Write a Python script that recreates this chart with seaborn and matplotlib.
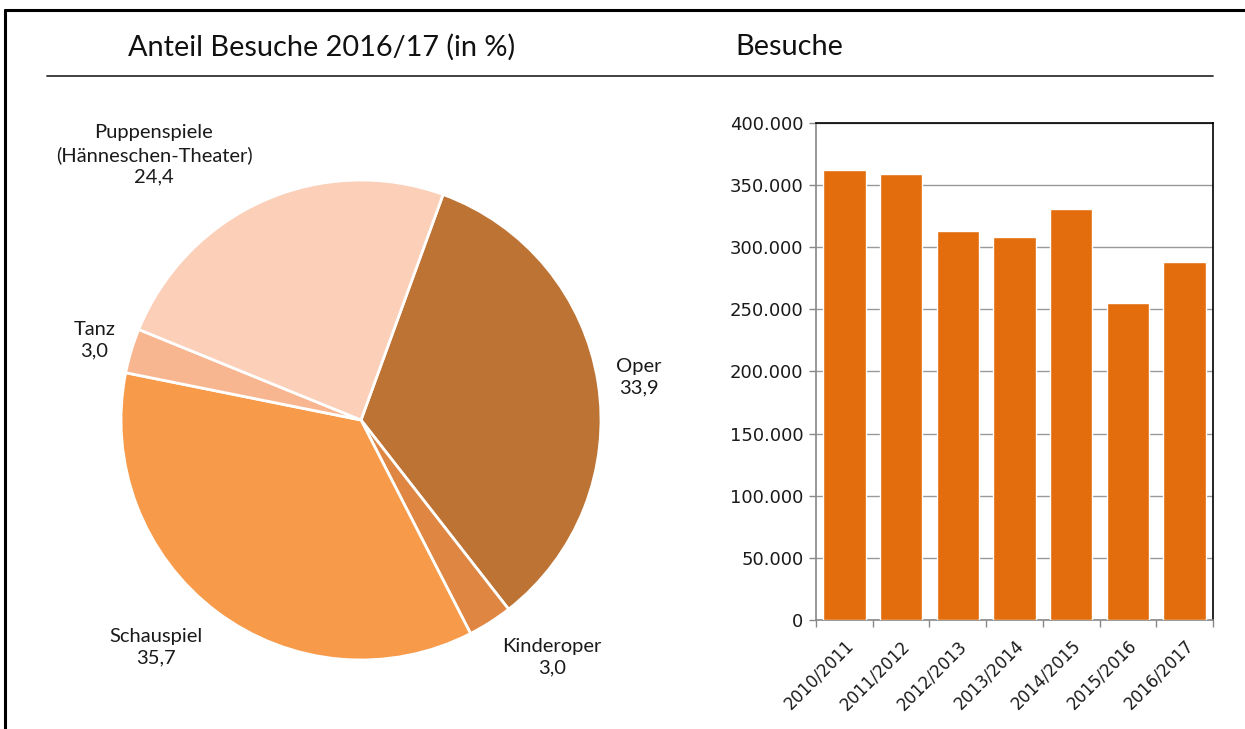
import matplotlib
matplotlib.use("Agg")
import matplotlib.pyplot as plt
import seaborn as sns
import pandas as pd
from matplotlib.lines import Line2D
from matplotlib.ticker import FuncFormatter

# ---- data ----
pie_labels = ["Oper", "Kinderoper", "Schauspiel", "Tanz", "Puppenspiele\n(Hänneschen-Theater)"]
pie_values = [33.9, 3.0, 35.7, 3.0, 24.4]
pie_value_text = ["33,9", "3,0", "35,7", "3,0", "24,4"]
pie_colors = ["#BD7334", "#DE8642", "#F79A4A", "#F8B690", "#FBCFB8"]

seasons = ["2010/2011", "2011/2012", "2012/2013", "2013/2014", "2014/2015", "2015/2016", "2016/2017"]
visits = [362000, 359000, 313000, 308000, 331000, 255000, 288000]

sns.set_theme(style="white")
plt.rcParams["font.family"] = ["DejaVu Sans"]

fig = plt.figure(figsize=(12.45, 7.29), dpi=100)

# ---- pie ----
axp = fig.add_axes([121/1245, 1-660/729, 480/1245, 480/729])
axp.pie(pie_values, colors=pie_colors, startangle=70, counterclock=False,
        radius=1.0, wedgeprops=dict(edgecolor="white", linewidth=2))
axp.set_xlim(-1, 1)
axp.set_ylim(-1, 1)
axp.set_aspect("equal")
axp.axis("off")
label_pos = [(1.156, 0.178), (0.795, -0.99), (-0.854, -0.945), (-1.11, 0.333), (-0.8625, 1.104)]
for lab, val, (x, y) in zip(pie_labels, pie_value_text, label_pos):
    axp.text(x, y, f"{lab}\n{val}", ha="center", va="center", fontsize=14.5,
             family=["Lato", "DejaVu Sans"], color="#1a1a1a", linespacing=1.32)

# ---- bars ----
axb = fig.add_axes([816/1245, 1-620/729, 397/1245, 497/729])
df = pd.DataFrame({"Saison": seasons, "Besuche": visits})
sns.barplot(data=df, x="Saison", y="Besuche", color="#E36C0C", saturation=1,
            width=0.75, ax=axb, zorder=3)
axb.set_xlim(-0.5, len(seasons) - 0.5)
axb.set_ylim(0, 400000)
axb.set_yticks(range(0, 400001, 50000))
axb.yaxis.set_major_formatter(FuncFormatter(lambda v, p: f"{int(v):,}".replace(",", ".")))
axb.grid(axis="y", color="#999999", linewidth=1, zorder=0)
axb.set_axisbelow(True)
axb.set_xlabel("")
axb.set_ylabel("")
axb.set_xticks([i - 0.5 for i in range(len(seasons) + 1)])
axb.set_xticklabels([])
axb.set_xticks(range(len(seasons)), minor=True)
axb.set_xticklabels(seasons, minor=True, rotation=45, ha="right", rotation_mode="anchor",
                    fontsize=12, color="#1a1a1a")
axb.tick_params(axis="x", which="major", length=5, color="#888888", width=1, direction="out", bottom=True)
axb.tick_params(axis="x", which="minor", length=0, pad=12)
axb.tick_params(axis="y", length=5, color="#888888", width=1, direction="out", left=True,
                labelsize=13, pad=4, labelcolor="#1a1a1a")
for s in ["left", "bottom"]:
    axb.spines[s].set_color("#888888")
    axb.spines[s].set_linewidth(1.2)
for s in ["top", "right"]:
    axb.spines[s].set_color("black")
    axb.spines[s].set_linewidth(1.2)
    axb.spines[s].set_visible(True)

# ---- titles and frame ----
fig.text(128/1245, 1-47/729, "Anteil Besuche 2016/17 (in %)", fontsize=20.8,
         family=["Lato", "DejaVu Sans"], va="center", ha="left", color="#111111")
fig.text(735/1245, 1-47/729, "Besuche", fontsize=20.8,
         family=["Lato", "DejaVu Sans"], va="center", ha="left", color="#111111")
fig.add_artist(Line2D([47/1245, 1213/1245], [1-76/729, 1-76/729], color="#333333", linewidth=1.3))
fig.add_artist(Line2D([5/1245, 1.0], [1-10/729, 1-10/729], color="black", linewidth=2.2))
fig.add_artist(Line2D([5/1245, 5/1245], [0, 1-10/729], color="black", linewidth=2.2))

fig.savefig("out.png", dpi=100, facecolor="white")
